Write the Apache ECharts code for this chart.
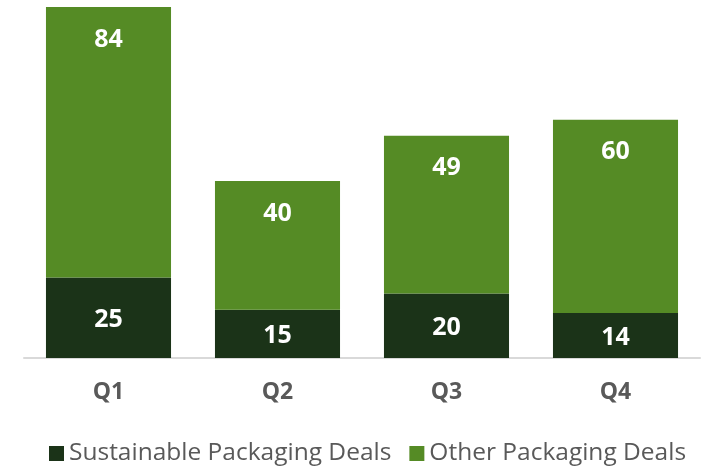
<!DOCTYPE html>
<html>
<head>
<meta charset="utf-8">
<script src="https://cdn.jsdelivr.net/npm/echarts@6/dist/echarts.min.js"></script>
<style>
  html, body { margin: 0; padding: 0; background: #fff; }
  #chart { width: 703px; height: 468px; }
</style>
</head>
<body>
<div id="chart"></div>
<script>
'use strict';

// 数据
const quarters = ['Q1', 'Q2', 'Q3', 'Q4'];
const sustainableDeals = [25, 15, 20, 14];
const otherDeals = [84, 40, 49, 60];
const seriesNames = ['Sustainable Packaging Deals', 'Other Packaging Deals'];

const myChart = echarts.init(document.getElementById('chart'));

const labelStyle = {
    show: true,
    position: 'inside',
    offset: [0, 2],
    color: '#ffffff',
    fontSize: 25,
    fontWeight: 'bold',
    fontFamily: 'Open Sans'
};

const option = {
    animation: false,
    grid: { left: 24, right: 3, top: 7, bottom: 110 },
    legend: {
        data: seriesNames,
        top: 436,
        left: 44,
        icon: 'rect',
        itemWidth: 15,
        itemHeight: 15,
        itemGap: 18,
        textStyle: { color: '#595959', fontSize: 24.5, fontFamily: 'Open Sans' }
    },
    xAxis: {
        type: 'category',
        data: quarters,
        axisLine: { lineStyle: { color: '#d9d9d9', width: 2 } },
        axisTick: { show: false },
        axisLabel: {
            color: '#595959',
            fontSize: 23,
            fontWeight: 'bold',
            fontFamily: 'Open Sans',
            margin: 23
        }
    },
    yAxis: {
        type: 'value',
        min: 0,
        max: 109,
        show: false,
        splitLine: { show: false }
    },
    series: [
        {
            name: seriesNames[0],
            type: 'bar',
            stack: 'deals',
            barCategoryGap: '26%',
            data: sustainableDeals,
            itemStyle: { color: '#1b3318' },
            label: labelStyle
        },
        {
            name: seriesNames[1],
            type: 'bar',
            stack: 'deals',
            barCategoryGap: '26%',
            data: otherDeals,
            itemStyle: { color: '#558b25' },
            label: Object.assign({}, labelStyle, { position: 'insideTop', distance: 20, offset: [0, 0] })
        }
    ]
};

myChart.setOption(option);
</script>
</body>
</html>
